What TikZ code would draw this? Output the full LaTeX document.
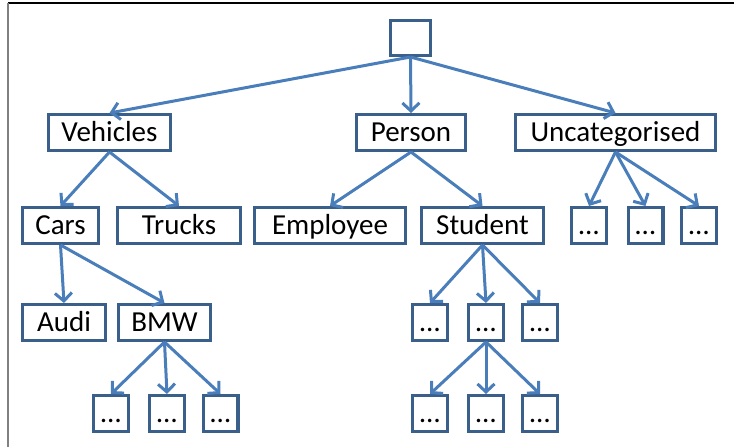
\documentclass[tikz,border=0pt]{standalone}
\usepackage{fontspec}
\setmainfont{Carlito}
\usetikzlibrary{arrows.meta}
\definecolor{boxblue}{HTML}{3A5F8B}
\definecolor{arrowblue}{HTML}{4A7EBB}
\tikzset{
  cat/.style={draw=boxblue, line width=3.2pt, fill=white, inner sep=0pt,
    font=\fontsize{29}{32}\selectfont, text height=18.5pt, text depth=0pt,
    minimum height=35.8pt},
  link/.style={draw=arrowblue, line width=3pt,
    -{Straight Barb[length=8pt,width=17pt,line width=3pt]}},
}
\begin{document}
\begin{tikzpicture}[x=1pt,y=-1pt]
\useasboundingbox (0,0) rectangle (734,447);
\draw[black, line width=1.2pt] (8,3) -- (734,3);
\draw[gray, line width=1.2pt] (8,3) -- (8,447);

\node[cat, minimum width=39.8pt, minimum height=34.8pt] (root) at (410.5,38) {};
\node[cat, minimum width=121.8pt] (veh) at (109.5,132.5) {Vehicles};
\node[cat, minimum width=108.8pt] (per) at (411,132.5) {Person};
\node[cat, minimum width=199.8pt] (unc) at (615.5,132.5) {Uncategorised};

\node[cat, minimum width=75.8pt] (cars) at (60.5,225.5) {Cars};
\node[cat, minimum width=122.8pt] (trucks) at (179,225.5) {Trucks};
\node[cat, minimum width=150.8pt] (emp) at (330,225.5) {Employee};
\node[cat, minimum width=121.8pt] (stu) at (482.5,225.5) {Student};
\node[cat, minimum width=34.8pt] (u1) at (589,225.5) {…};
\node[cat, minimum width=34.8pt] (u2) at (645.5,225.5) {…};
\node[cat, minimum width=34.8pt] (u3) at (699,225.5) {…};

\node[cat, minimum width=82.8pt] (audi) at (64,322.5) {Audi};
\node[cat, minimum width=91.8pt] (bmw) at (164.5,322.5) {BMW};
\node[cat, minimum width=34.8pt] (s1) at (430,322.5) {…};
\node[cat, minimum width=34.8pt] (s2) at (486,322.5) {…};
\node[cat, minimum width=34.8pt] (s3) at (540,322.5) {…};

\node[cat, minimum width=34.8pt] (b1) at (111,413.5) {…};
\node[cat, minimum width=34.8pt] (b2) at (167,413.5) {…};
\node[cat, minimum width=34.8pt] (b3) at (220.5,413.5) {…};
\node[cat, minimum width=34.8pt] (t1) at (430,413.5) {…};
\node[cat, minimum width=34.8pt] (t2) at (486,413.5) {…};
\node[cat, minimum width=34.8pt] (t3) at (540,413.5) {…};

\draw[link] (root.south) -- (veh.north);
\draw[link] (root.south) -- (per.north);
\draw[link] (root.south) -- (unc.north);
\draw[link] (veh.south) -- (cars.north);
\draw[link] (veh.south) -- (trucks.north);
\draw[link] (per.south) -- (emp.north);
\draw[link] (per.south) -- (stu.north);
\draw[link] (unc.south) -- (u1.north);
\draw[link] (unc.south) -- (u2.north);
\draw[link] (unc.south) -- (u3.north);
\draw[link] (cars.south) -- (audi.north);
\draw[link] (cars.south) -- (bmw.north);
\draw[link] (stu.south) -- (s1.north);
\draw[link] (stu.south) -- (s2.north);
\draw[link] (stu.south) -- (s3.north);
\draw[link] (s2.south) -- (t1.north);
\draw[link] (s2.south) -- (t2.north);
\draw[link] (s2.south) -- (t3.north);
\draw[link] (bmw.south) -- (b1.north);
\draw[link] (bmw.south) -- (b2.north);
\draw[link] (bmw.south) -- (b3.north);
\end{tikzpicture}
\end{document}
